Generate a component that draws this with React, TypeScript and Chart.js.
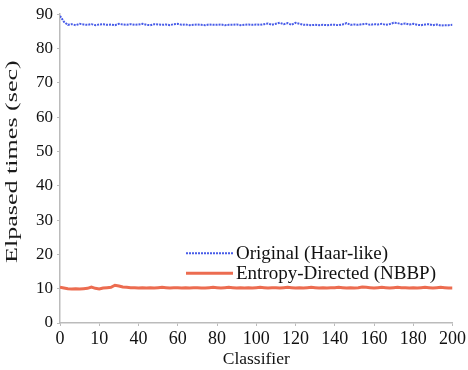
import React, { useEffect, useRef } from "react";
import { Chart, registerables } from "chart.js";

Chart.register(...registerables);

const classifiers: number[] = [];
for (let i = 0; i <= 200; i += 2) classifiers.push(i);

const originalHaar = [
  89.5, 87.8, 86.9, 87.1, 86.8, 87.2, 87.0, 86.9, 87.1, 86.8,
  87.0, 87.1, 86.9, 87.0, 86.8, 87.2, 87.0, 86.9, 87.1, 86.9,
  87.0, 87.2, 86.9, 86.8, 87.1, 87.0, 86.9, 87.0, 86.8, 87.1,
  87.2, 86.9, 87.0, 86.8, 86.9, 87.0, 86.9, 86.8, 87.0, 86.9,
  86.9, 87.0, 86.8, 86.9, 86.9, 87.0, 86.8, 86.9, 87.0, 86.9,
  87.0, 86.9, 87.1, 87.3, 86.9, 87.2, 87.5, 87.1, 87.4, 86.9,
  87.5, 87.2, 86.9, 86.9, 86.8, 86.9, 86.8, 86.9, 86.8, 86.9,
  86.9, 86.8, 87.0, 87.4, 86.9, 87.0, 86.9, 87.1, 87.2, 86.9,
  87.1, 87.0, 87.2, 86.9, 87.1, 87.5, 87.4, 87.1, 87.3, 87.0,
  87.2, 86.9, 86.8, 87.0, 87.1, 86.8, 87.0, 86.7, 86.8, 86.8,
  86.9,
];

const entropyNBBP = [
  10.4, 10.2, 10.0, 9.9, 10.0, 9.9, 10.0, 10.1, 10.5, 10.1,
  9.9, 10.2, 10.3, 10.4, 11.0, 10.8, 10.5, 10.4, 10.3, 10.3,
  10.2, 10.3, 10.2, 10.3, 10.2, 10.3, 10.4, 10.3, 10.2, 10.3,
  10.3, 10.2, 10.3, 10.2, 10.3, 10.3, 10.2, 10.2, 10.3, 10.4,
  10.3, 10.2, 10.3, 10.4, 10.3, 10.2, 10.3, 10.2, 10.3, 10.2,
  10.3, 10.4, 10.3, 10.2, 10.3, 10.3, 10.2, 10.3, 10.4, 10.3,
  10.2, 10.3, 10.2, 10.3, 10.4, 10.3, 10.2, 10.3, 10.2, 10.3,
  10.3, 10.4, 10.3, 10.2, 10.3, 10.2, 10.3, 10.5, 10.4, 10.3,
  10.2, 10.3, 10.4, 10.3, 10.2, 10.3, 10.4, 10.3, 10.3, 10.2,
  10.3, 10.2, 10.3, 10.4, 10.3, 10.2, 10.3, 10.4, 10.3, 10.2,
  10.2,
];

const xTickValues = [0, 20, 40, 60, 80, 100, 120, 140, 160, 180, 200];
const xTickLabels = ["0", "10", "40", "60", "80", "100", "120", "140", "160", "180", "200"];
const yTickValues = [0, 10, 20, 30, 40, 50, 60, 70, 80, 90];

const seriesNames = ["Original (Haar-like)", "Entropy-Directed (NBBP)"];
const yTitle = "Elpased times (sec)";

const FONT = "'Liberation Serif', 'Times New Roman', serif";

const insideLegend = {
  id: "insideLegend",
  afterDraw(chart: any) {
    const { ctx, chartArea } = chart;
    const x0 = chartArea.left + 126;
    const y0 = chartArea.top + 239;
    const gap = 20;
    ctx.save();
    ctx.font = `19px ${FONT}`;
    ctx.textBaseline = "middle";
    ctx.fillStyle = "#111";
    chart.data.datasets.forEach((ds: any, i: number) => {
      const y = y0 + i * gap;
      ctx.beginPath();
      ctx.strokeStyle = ds.borderColor;
      ctx.lineWidth = ds.borderWidth;
      ctx.setLineDash(ds.borderDash || []);
      ctx.moveTo(x0, y);
      ctx.lineTo(x0 + 47, y);
      ctx.stroke();
      ctx.setLineDash([]);
      ctx.fillText(ds.label, x0 + 50, y + 1);
    });
    ctx.restore();
  },
};

const stretchedYTitle = {
  id: "stretchedYTitle",
  afterDraw(chart: any) {
    const { ctx, chartArea } = chart;
    const cy = (chartArea.top + chartArea.bottom) / 2 - 7;
    ctx.save();
    ctx.translate(13, cy);
    ctx.rotate(-Math.PI / 2);
    ctx.scale(1.58, 1);
    ctx.font = `16.5px ${FONT}`;
    ctx.textAlign = "center";
    ctx.textBaseline = "middle";
    ctx.fillStyle = "#1a1a1a";
    ctx.fillText(yTitle, 0, 0);
    ctx.restore();
  },
};

export default function App() {
  const ref = useRef<HTMLCanvasElement>(null);
  useEffect(() => {
    document.body.style.margin = "0";
    const canvas = ref.current!;
    const chart = new Chart(canvas, {
      type: "line",
      data: {
        labels: classifiers,
        datasets: [
          {
            label: seriesNames[0],
            data: originalHaar,
            borderColor: "rgb(72,92,232)",
            borderWidth: 2,
            borderDash: [2, 1],
            pointRadius: 0,
            tension: 0,
          },
          {
            label: seriesNames[1],
            data: entropyNBBP,
            borderColor: "rgb(236,108,80)",
            borderWidth: 3,
            pointRadius: 0,
            tension: 0,
          },
        ],
      },
      options: {
        animation: false,
        responsive: false,
        layout: { padding: { top: 14, right: 13, left: 0, bottom: 0 } },
        plugins: { legend: { display: false }, tooltip: { enabled: false } },
        scales: {
          x: {
            type: "linear",
            min: 0,
            max: 200,
            afterBuildTicks: (s: any) => {
              s.ticks = xTickValues.map((v) => ({ value: v }));
            },
            afterFit: (s: any) => {
              s.height = 47;
            },
            ticks: {
              autoSkip: false,
              maxRotation: 0,
              padding: 2,
              color: "#111",
              font: { family: FONT, size: 18 },
              callback: (v: any) => {
                const i = xTickValues.indexOf(Number(v));
                return i >= 0 ? xTickLabels[i] : "";
              },
            },
            grid: { display: true, drawOnChartArea: false, tickLength: 3, color: "#bbb" },
            border: { color: "#bbb", width: 1.5 },
            title: {
              display: true,
              text: "Classifier",
              color: "#111",
              font: { family: FONT, size: 17.5 },
              padding: { top: 0, bottom: 0 },
            },
          },
          y: {
            min: 0,
            max: 90,
            afterBuildTicks: (s: any) => {
              s.ticks = yTickValues.map((v) => ({ value: v }));
            },
            afterFit: (s: any) => {
              s.width = 60;
            },
            ticks: {
              padding: 4,
              color: "#111",
              font: { family: FONT, size: 17 },
            },
            grid: { display: true, drawOnChartArea: false, tickLength: 3, color: "#bbb" },
            border: { color: "#bbb", width: 1.5 },
            title: { display: false },
          },
        },
      },
      plugins: [insideLegend, stretchedYTitle],
    });
    return () => chart.destroy();
  }, []);
  return (
    <div style={{ width: 468, height: 370, background: "#fff" }}>
      <canvas ref={ref} width={468} height={370} style={{ display: "block" }} />
    </div>
  );
}
